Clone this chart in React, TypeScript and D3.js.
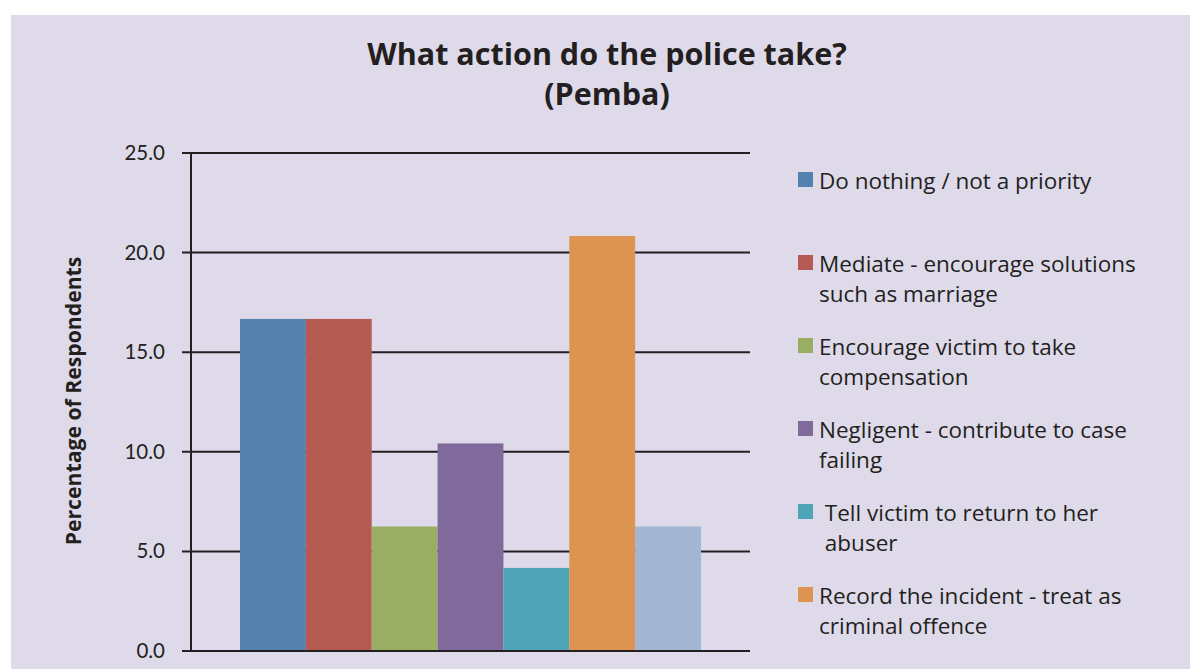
import React from "react";
import * as d3 from "d3";

const categories = [
  "Do nothing / not a priority",
  "Mediate - encourage solutions such as marriage",
  "Encourage victim to take compensation",
  "Negligent - contribute to case failing",
  "Tell victim to return to her abuser",
  "Record the incident - treat as criminal offence",
  "Other",
];
const values = [16.67, 16.67, 6.25, 10.42, 4.17, 20.83, 6.25];
const colors = ["#5581ae", "#b55a52", "#9aae63", "#806a9b", "#4fa5b7", "#dd9450", "#a2b5d3"];
const yTicks = [0, 5, 10, 15, 20, 25];
const legendLines = [
  ["Do nothing / not a priority"],
  ["Mediate - encourage solutions", "such as marriage"],
  ["Encourage victim to take", "compensation"],
  ["Negligent - contribute to case", "failing"],
  [" Tell victim to return to her", " abuser"],
  ["Record the incident - treat as", "criminal offence"],
];
const titleLines = ["What action do the police take?", "(Pemba)"];
const yLabel = "Percentage of Respondents";

const W = 1190, H = 669;
const FONT = "'Open Sans', sans-serif";
const TICKFONT = "Lato, sans-serif";
const INK = "#231f20";

export default function App() {
  const plotLeft = 191, plotRight = 750, plotTop = 153, plotBottom = 651;
  const y = d3.scaleLinear().domain([0, 25]).range([plotBottom, plotTop]);
  const x = d3.scaleBand<number>().domain(d3.range(values.length)).range([240, 701]).paddingInner(0);

  return (
    <div style={{ position: "absolute", left: 0, top: 0 }}>
      <svg width={W} height={H} style={{ display: "block" }}>
        <rect x={0} y={0} width={W} height={H} fill="#ffffff" />
        <rect x={11} y={15} width={W - 11} height={H - 15} fill="#dedaea" />
        {titleLines.map((t, i) => (
          <text key={i} x={607} y={65 + i * 40} textAnchor="middle" fontFamily={FONT} fontWeight="bold" fontSize={30.5} fill={INK}>
            {t}
          </text>
        ))}
        {yTicks.map((t) => (
          <g key={t}>
            <line x1={182} x2={plotRight} y1={y(t)} y2={y(t)} stroke={INK} strokeWidth={2} />
            <text x={165} y={y(t) + 7} textAnchor="end" fontFamily={TICKFONT} fontSize={20.5} fill={INK}>
              {t.toFixed(1)}
            </text>
          </g>
        ))}
        {values.map((v, i) => (
          <rect key={i} x={x(i)} y={y(v)} width={x.bandwidth()} height={y(0) - y(v)} fill={colors[i]} />
        ))}
        <line x1={plotLeft} x2={plotLeft} y1={plotTop} y2={plotBottom} stroke={INK} strokeWidth={2} />
        <line x1={182} x2={plotRight} y1={plotBottom} y2={plotBottom} stroke={INK} strokeWidth={2} />
        <text transform={`translate(81,401) rotate(-90)`} textAnchor="middle" fontFamily={FONT} fontWeight="bold" fontSize={21.2} fill={INK}>
          {yLabel}
        </text>
        {legendLines.map((lines, i) => {
          const base = 189 + i * 83;
          return (
            <g key={i}>
              <rect x={798} y={base - 17} width={15} height={15} fill={colors[i]} />
              {lines.map((l, j) => (
                <text key={j} x={819} y={base + j * 30} fontFamily={FONT} fontSize={22.5} fill={INK} style={{ whiteSpace: "pre" }}>
                  {l}
                </text>
              ))}
            </g>
          );
        })}
      </svg>
    </div>
  );
}
